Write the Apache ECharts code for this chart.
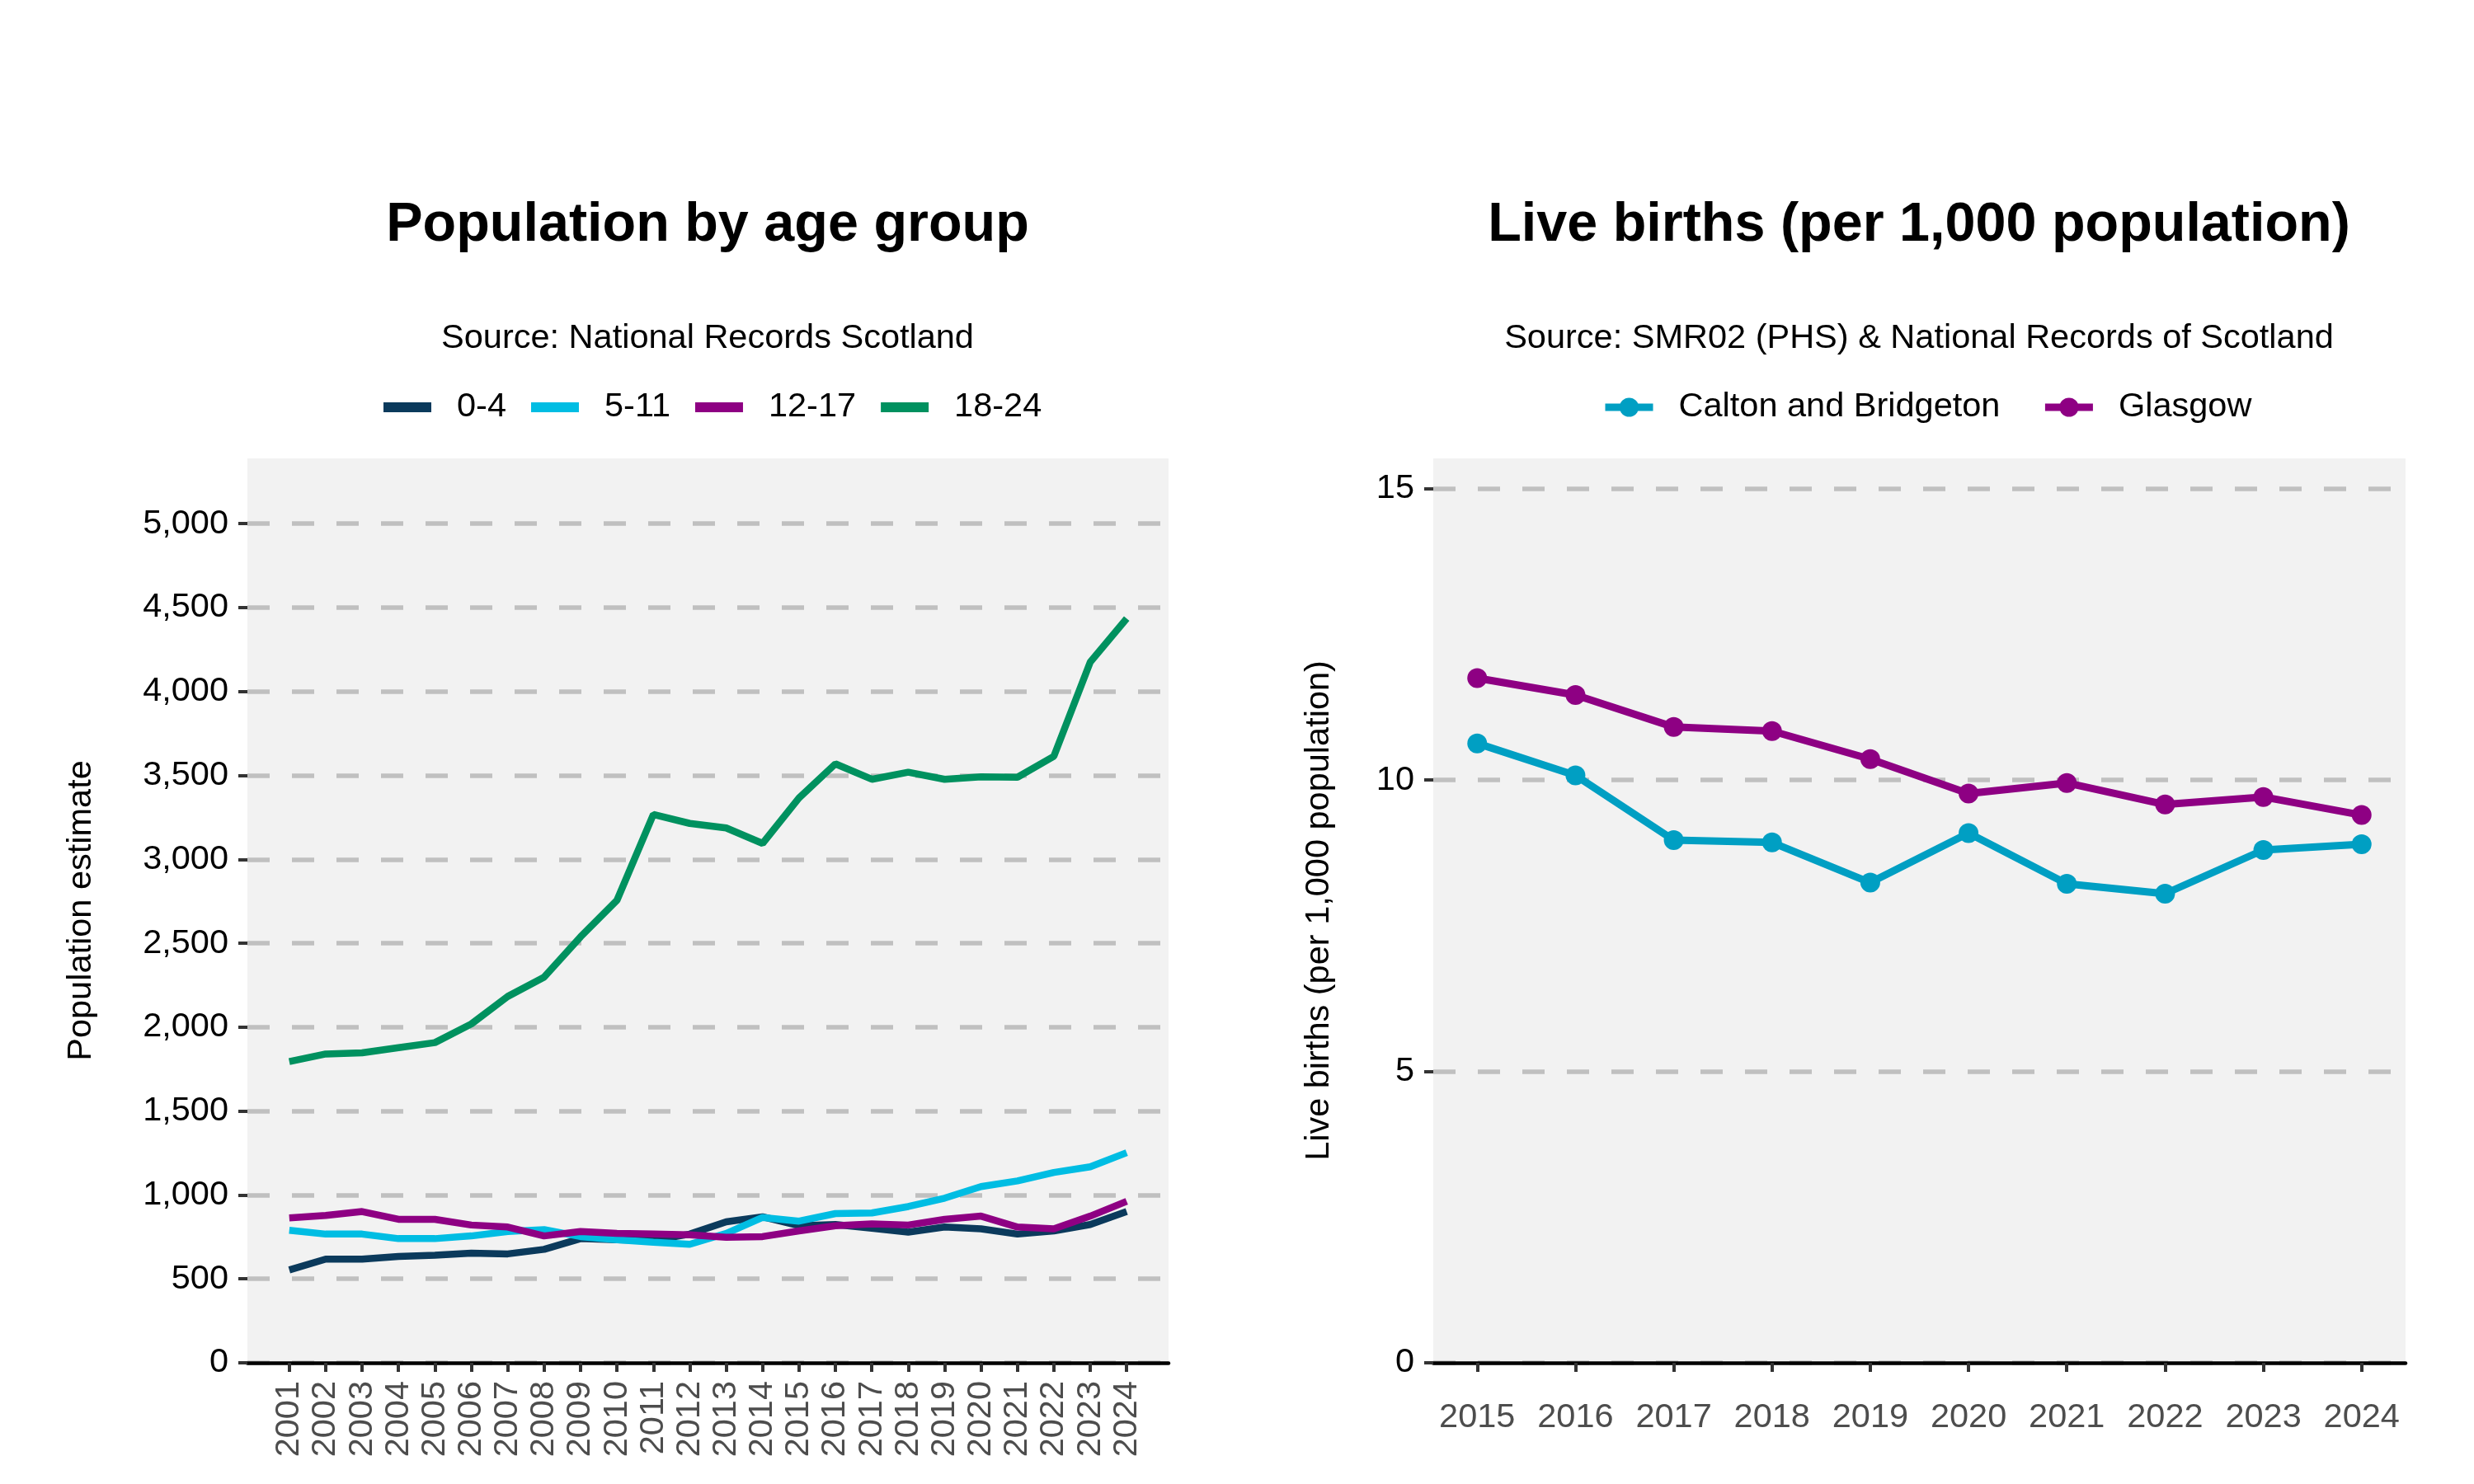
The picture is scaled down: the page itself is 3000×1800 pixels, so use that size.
<!DOCTYPE html>
<html>
<head>
<meta charset="utf-8">
<script src="https://cdn.jsdelivr.net/npm/echarts@6/dist/echarts.min.js"></script>
<style>html,body{margin:0;padding:0;background:#fff;}#c{width:3000px;height:1800px;}</style>
</head>
<body>
<div id="c"></div>
<script>
// ---- Data: Population by age group ----
const popYears = [2001,2002,2003,2004,2005,2006,2007,2008,2009,2010,2011,2012,2013,2014,2015,2016,2017,2018,2019,2020,2021,2022,2023,2024];
const pop0to4   = [553,618,618,634,641,653,649,676,740,733,729,767,840,870,817,824,802,779,809,798,767,786,824,901];
const pop5to11  = [790,767,767,740,740,756,782,794,752,733,718,706,771,866,844,889,893,931,981,1050,1084,1134,1168,1252];
const pop12to17 = [863,878,901,855,855,821,809,756,782,771,767,763,748,752,786,817,828,821,855,874,809,798,874,962];
const pop18to24 = [1795,1840,1847,1878,1908,2019,2183,2298,2538,2756,3267,3214,3187,3095,3366,3569,3477,3519,3477,3492,3489,3614,4176,4435];
const popTicks  = [0,500,1000,1500,2000,2500,3000,3500,4000,4500,5000];

// ---- Data: Live births per 1,000 population ----
const birthYears = [2015,2016,2017,2018,2019,2020,2021,2022,2023,2024];
const birthsCalton  = [10.63,10.08,8.97,8.93,8.24,9.09,8.22,8.05,8.80,8.90];
const birthsGlasgow = [11.75,11.46,10.91,10.84,10.36,9.77,9.95,9.58,9.71,9.40];
const birthTicks = [0,5,10,15];

const FONT = '"Liberation Sans", Arial, Helvetica, sans-serif';
const FS = 41.5;
const C_NAVY = '#0B3A5C', C_CYAN = '#00BDE3', C_PURPLE = '#8E0083', C_GREEN = '#00915F', C_TEAL = '#009FC3';

function pairs(xs, ys){ return xs.map((x,i)=>[x, ys[i]]); }
function fmtThousands(v){ return String(Math.round(v)).replace(/\B(?=(\d{3})+(?!\d))/g, ','); }

const splitLine = { show: true, lineStyle: { color: '#C0C0C0', width: 5.5, type: [27,27] } };
const yTick = { show: true, length: 11, lineStyle: { color: '#333333', width: 4 } };
const xTick = { show: true, length: 11, lineStyle: { color: '#333333', width: 4 } };
const xLine = { show: true, onZero: true, lineStyle: { color: '#000000', width: 4.5 } };

const chart = echarts.init(document.getElementById('c'), null, { renderer: 'canvas' });
chart.setOption({
  backgroundColor: '#ffffff',
  animation: false,
  textStyle: { fontFamily: FONT },
  title: [
    { text: 'Population by age group', left: 858, top: 274, textAlign: 'center', textVerticalAlign: 'middle', padding: 0,
      textStyle: { fontFamily: FONT, fontSize: 66.5, fontWeight: 'bold', color: '#000' } },
    { text: 'Source: National Records Scotland', left: 858, top: 411, textAlign: 'center', textVerticalAlign: 'middle', padding: 0,
      textStyle: { fontFamily: FONT, fontSize: FS, fontWeight: 'normal', color: '#000' } },
    { text: 'Live births (per 1,000 population)', left: 2327, top: 274, textAlign: 'center', textVerticalAlign: 'middle', padding: 0,
      textStyle: { fontFamily: FONT, fontSize: 66.5, fontWeight: 'bold', color: '#000' } },
    { text: 'Source: SMR02 (PHS) & National Records of Scotland', left: 2327, top: 411, textAlign: 'center', textVerticalAlign: 'middle', padding: 0,
      textStyle: { fontFamily: FONT, fontSize: FS, fontWeight: 'normal', color: '#000' } }
  ],
  legend: [
    { data: ['0-4','5-11','12-17','18-24'], left: 465, top: 473, padding: 0, orient: 'horizontal',
      itemWidth: 58, itemHeight: 12, itemGap: 30, icon: 'rect',
      textStyle: { fontFamily: FONT, fontSize: FS, color: '#000', padding: [0,0,0,26] } },
    { data: ['Calton and Bridgeton','Glasgow'], left: 1942, top: 473, padding: 0,
      itemWidth: 58, itemHeight: 29, itemGap: 50,
      lineStyle: { width: 9 },
      textStyle: { fontFamily: FONT, fontSize: FS, color: '#000', padding: [0,0,0,26] } }
  ],
  grid: [
    { left: 300, right: 1583, top: 556, bottom: 147, show: true, backgroundColor: '#F2F2F2', borderWidth: 0, containLabel: false },
    { left: 1738, right: 83, top: 556, bottom: 147, show: true, backgroundColor: '#F2F2F2', borderWidth: 0, containLabel: false }
  ],
  xAxis: [
    { gridIndex: 0, type: 'value', min: 1999.85, max: 2025.15,
      axisLine: xLine, axisTick: Object.assign({ customValues: popYears }, xTick), splitLine: { show: false },
      axisLabel: { customValues: popYears, rotate: 90, margin: 22, color: '#4D4D4D', fontSize: FS, fontFamily: FONT,
        formatter: v => String(v) } },
    { gridIndex: 1, type: 'value', min: 2014.553, max: 2024.447,
      axisLine: xLine, axisTick: Object.assign({ customValues: birthYears }, xTick), splitLine: { show: false },
      axisLabel: { customValues: birthYears, margin: 46, color: '#4D4D4D', fontSize: FS, fontFamily: FONT,
        formatter: v => String(v) } }
  ],
  yAxis: [
    { gridIndex: 0, type: 'value', min: 0, max: 5389,
      name: 'Population estimate', nameLocation: 'middle', nameGap: 180, nameRotate: 90,
      nameTextStyle: { fontFamily: FONT, fontSize: FS, color: '#000' },
      axisLine: { show: false }, axisTick: Object.assign({ customValues: popTicks }, yTick), splitLine: splitLine,
      axisLabel: { customValues: popTicks, margin: 23, color: '#000', fontSize: FS, fontFamily: FONT, formatter: v => fmtThousands(v) } },
    { gridIndex: 1, type: 'value', min: 0, max: 15.52,
      name: 'Live births (per 1,000 population)', nameLocation: 'middle', nameGap: 117, nameRotate: 90,
      nameTextStyle: { fontFamily: FONT, fontSize: FS, color: '#000' },
      axisLine: { show: false }, axisTick: Object.assign({ customValues: birthTicks }, yTick), splitLine: splitLine,
      axisLabel: { customValues: birthTicks, margin: 23, color: '#000', fontSize: FS, fontFamily: FONT, formatter: v => String(v) } }
  ],
  series: [
    { name: '0-4', type: 'line', xAxisIndex: 0, yAxisIndex: 0, data: pairs(popYears, pop0to4), symbol: 'none', lineStyle: { color: C_NAVY, width: 8.5 }, itemStyle: { color: C_NAVY } },
    { name: '5-11', type: 'line', xAxisIndex: 0, yAxisIndex: 0, data: pairs(popYears, pop5to11), symbol: 'none', lineStyle: { color: C_CYAN, width: 8.5 }, itemStyle: { color: C_CYAN } },
    { name: '12-17', type: 'line', xAxisIndex: 0, yAxisIndex: 0, data: pairs(popYears, pop12to17), symbol: 'none', lineStyle: { color: C_PURPLE, width: 8.5 }, itemStyle: { color: C_PURPLE } },
    { name: '18-24', type: 'line', xAxisIndex: 0, yAxisIndex: 0, data: pairs(popYears, pop18to24), symbol: 'none', lineStyle: { color: C_GREEN, width: 8.5 }, itemStyle: { color: C_GREEN } },
    { name: 'Calton and Bridgeton', type: 'line', xAxisIndex: 1, yAxisIndex: 1, data: pairs(birthYears, birthsCalton), symbol: 'circle', symbolSize: 24, lineStyle: { color: C_TEAL, width: 9 }, itemStyle: { color: C_TEAL } },
    { name: 'Glasgow', type: 'line', xAxisIndex: 1, yAxisIndex: 1, data: pairs(birthYears, birthsGlasgow), symbol: 'circle', symbolSize: 24, lineStyle: { color: C_PURPLE, width: 9 }, itemStyle: { color: C_PURPLE } }
  ]
});
</script>
</body>
</html>
